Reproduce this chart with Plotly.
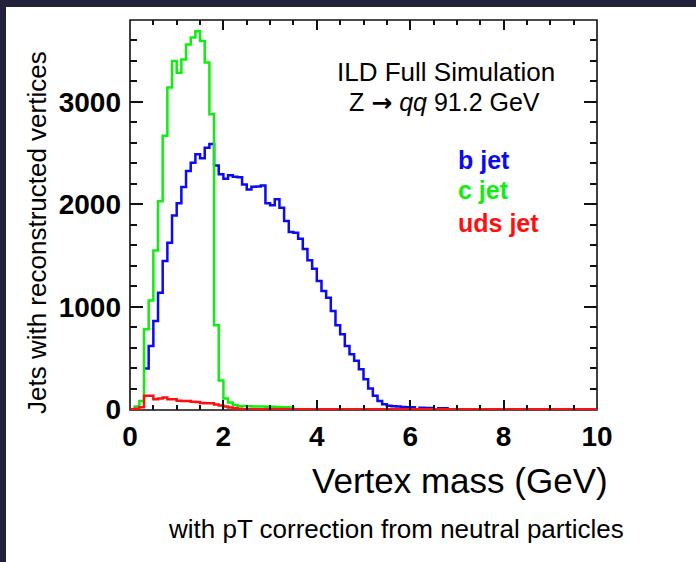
import plotly.graph_objects as go

# ---------------- data (histograms, 0.1 GeV bins from 0 to 10 GeV) ----------------
bin_low = 0.0
bin_width = 0.1
n_bins = 100
bin_edges = [round(bin_low + bin_width * i, 2) for i in range(n_bins + 1)]

b_jet = [0, 0, 0, 397, 618, 861, 1138, 1447, 1626, 1890,
         2010, 2170, 2325, 2407, 2488, 2450, 2553, 2590, 2380, 2293,
         2251, 2283, 2270, 2265, 2195, 2146, 2173, 2175, 2185, 2010,
         1990, 2049, 1968, 1837, 1730, 1722, 1665, 1565, 1455, 1370,
         1252, 1154, 1089, 959, 820, 732, 618, 537, 472, 390,
         293, 202, 130, 81, 49, 33, 28, 25, 22, 20,
         18, 0, 14, 12, 12, 0, 10, 9, 0, 0] + [0] * 30

c_jet = [0, 25, 80, 780, 1060, 1550, 2030, 2670, 3140, 3400,
         3285, 3415, 3560, 3630, 3690, 3595, 3385, 2880, 820, 280,
         105, 65, 40, 32, 30, 28, 27, 26, 25, 24,
         23, 22, 20, 18, 16] + [0] * 65

uds_jet = [0, 3, 18, 130, 130, 98, 104, 114, 98, 96,
           83, 81, 80, 72, 71, 60, 59, 57, 45, 35,
           25, 16, 8, 3] + [0] * 76

x_ticks = [0, 2, 4, 6, 8, 10]
y_ticks = [0, 1000, 2000, 3000]
y_tick_labels = ["0", "1000", "2000", "3000"]

series = [("b jet", b_jet, "#0a0af5"), ("c jet", c_jet, "#10ee10"), ("uds jet", uds_jet, "#ff1010")]

# ---------------- layout geometry ----------------
W, H = 696, 562
ML, MR, MT, MB = 130, 99, 20, 152
PW, PH = W - ML - MR, H - MT - MB
FONT = "Liberation Sans, Arial, Helvetica, sans-serif"


def px_x(px):
    return (px - ML) / PW


def px_y(py):
    return (MT + PH - py) / PH


fig = go.Figure()

for name, vals, col in series:
    start = next(i for i, v in enumerate(vals) if v > 0)
    if name != "b jet":
        start = 0
    xs = bin_edges[start:]
    ys = vals[start:] + [vals[-1]]
    fig.add_trace(go.Scatter(x=xs, y=ys, mode="lines", name=name,
                             line=dict(color=col, width=2.5, shape="hv"),
                             showlegend=False, hoverinfo="skip"))

fig.update_layout(
    width=W, height=H,
    margin=dict(l=ML, r=MR, t=MT, b=MB, pad=0),
    paper_bgcolor="#22223a",
    plot_bgcolor="white",
    font=dict(family=FONT, color="black"),
    xaxis=dict(range=[0, 10], showline=False, mirror="ticks", showgrid=False, zeroline=False,
               ticks="inside", ticklen=10, tickwidth=1.6, tickcolor="#111",
               tickvals=x_ticks, ticktext=[str(t) for t in x_ticks], ticklabelstandoff=7,
               tickfont=dict(size=28, family=FONT, weight="bold"),
               minor=dict(dtick=0.5, ticks="inside", ticklen=5, tickwidth=1.6, tickcolor="#111", showgrid=False)),
    yaxis=dict(range=[-8, 3800], showline=False, mirror="ticks", showgrid=False, zeroline=False,
               ticks="inside", ticklen=13, tickwidth=1.6, tickcolor="#111",
               tickvals=y_ticks, ticktext=y_tick_labels, ticklabelstandoff=8,
               tickfont=dict(size=28, family=FONT, weight="bold"),
               minor=dict(dtick=200, ticks="inside", ticklen=7, tickwidth=1.6, tickcolor="#111", showgrid=False)),
    shapes=[
        dict(type="rect", xref="paper", yref="paper", x0=px_x(6), x1=1.4, y0=-0.6, y1=px_y(7),
             fillcolor="white", line=dict(width=0), layer="below"),
        dict(type="rect", xref="paper", yref="paper", x0=0, x1=1, y0=0, y1=1,
             fillcolor="rgba(0,0,0,0)", line=dict(color="#111", width=1.6), layer="below"),
    ],
)

arrow = "<span style=\"font-family:'DejaVu Sans';font-weight:bold\">→</span>"
ann = [
    dict(text="ILD Full Simulation", x=px_x(446), y=px_y(72), size=26, color="black", xanchor="center"),
    dict(text="Z " + arrow + " <i>qq</i> 91.2 GeV", x=px_x(444), y=px_y(102), size=25, color="black",
         xanchor="center"),
    dict(text="<b>b jet</b>", x=px_x(456), y=px_y(160), size=25, color=series[0][2], xanchor="left"),
    dict(text="<b>c jet</b>", x=px_x(456), y=px_y(190), size=25, color=series[1][2], xanchor="left"),
    dict(text="<b>uds jet</b>", x=px_x(456), y=px_y(223), size=25, color=series[2][2], xanchor="left"),
    dict(text="Vertex mass (GeV)", x=px_x(610), y=px_y(480), size=35, color="black", xanchor="right"),
    dict(text="with pT correction from neutral particles", x=px_x(396), y=px_y(529), size=26,
         color="black", xanchor="center"),
]
for a in ann:
    fig.add_annotation(text=a["text"], x=a["x"], y=a["y"], xref="paper", yref="paper",
                       xanchor=a["xanchor"], yanchor="middle", showarrow=False,
                       font=dict(size=a["size"], color=a["color"], family=FONT))

fig.add_annotation(text="Jets with reconstructed vertices", x=px_x(37), y=px_y(233),
                   xref="paper", yref="paper", xanchor="center", yanchor="middle",
                   textangle=-90, showarrow=False, font=dict(size=26, color="black", family=FONT))

fig.write_html("out.html", config={"displayModeBar": False},
               post_script="document.body.style.margin='0';")
